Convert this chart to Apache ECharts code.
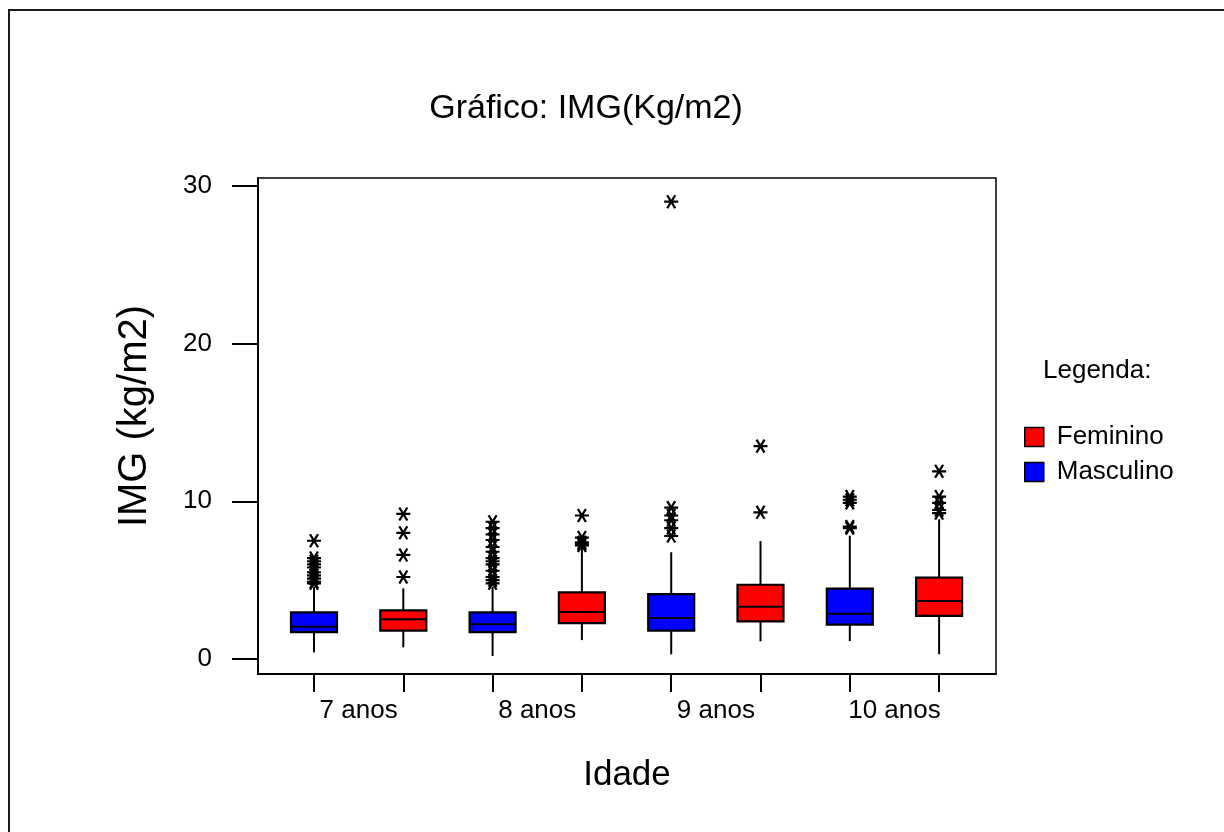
<!DOCTYPE html>
<html>
<head>
<meta charset="utf-8">
<script src="https://cdn.jsdelivr.net/npm/echarts@6/dist/echarts.min.js"></script>
<style>
  html, body { margin: 0; padding: 0; background: #fff; }
  #chart { width: 1224px; height: 832px; }
</style>
</head>
<body>
<div id="chart"></div>
<script>
// idades (uma por par de caixas)
var idades = ['7 anos', '8 anos', '9 anos', '10 anos'];

// caixas: [min, Q1, mediana, Q3, max]
var boxMasculino = [
  [0.42, 1.71, 2.05, 2.96, 4.59],
  [0.19, 1.71, 2.20, 2.96, 4.59],
  [0.30, 1.80, 2.60, 4.12, 6.77],
  [1.14, 2.18, 2.87, 4.46, 7.82]
];
var boxFeminino = [
  [0.74, 1.80, 2.52, 3.09, 4.48],
  [1.20, 2.28, 2.98, 4.23, 7.12],
  [1.12, 2.39, 3.32, 4.71, 7.48],
  [0.30, 2.73, 3.68, 5.16, 8.86]
];

// outliers (*) por idade
var outMasculino = [
  [7.5, 6.4, 6.2, 6.0, 5.8, 5.5, 5.3, 5.1, 4.9, 4.8],
  [8.7, 8.3, 7.9, 7.55, 7.1, 6.8, 6.4, 6.2, 6.0, 5.6, 5.2, 5.0, 4.8],
  [29.0, 9.6, 9.1, 8.8, 8.3, 7.8],
  [10.3, 10.1, 9.9, 8.4, 8.3]
];
var outFeminino = [
  [9.2, 8.0, 6.6, 5.2],
  [9.1, 7.7, 7.4, 7.3, 7.2],
  [13.5, 9.3],
  [11.9, 10.3, 9.9, 9.45, 9.25]
];

var yTicks = [0, 10, 20, 30];

// posição no eixo x: masculino à esquerda, feminino à direita
function posM(i) { return 2 * i + 1; }
function posF(i) { return 2 * i + 2; }

var dataM = boxMasculino.map(function (b, i) { return [posM(i)].concat(b); });
var dataF = boxFeminino.map(function (b, i) { return [posF(i)].concat(b); });
var outliers = [];
outMasculino.forEach(function (arr, i) { arr.forEach(function (v) { outliers.push([posM(i), v]); }); });
outFeminino.forEach(function (arr, i) { arr.forEach(function (v) { outliers.push([posF(i), v]); }); });

var labelPos = idades.map(function (n, i) { return 2 * i + 1.5; });
var tickPos = [];
idades.forEach(function (n, i) { tickPos.push(posM(i), posF(i)); });

function renderBox(params, api) {
  var x = api.value(0);
  var lo = api.coord([x, api.value(1)]);
  var q1 = api.coord([x, api.value(2)]);
  var md = api.coord([x, api.value(3)]);
  var q3 = api.coord([x, api.value(4)]);
  var hi = api.coord([x, api.value(5)]);
  var half = 23;
  var ln = { stroke: '#000', lineWidth: 2 };
  return {
    type: 'group',
    children: [
      { type: 'line', shape: { x1: lo[0], y1: lo[1], x2: q1[0], y2: q1[1] }, style: ln },
      { type: 'line', shape: { x1: q3[0], y1: q3[1], x2: hi[0], y2: hi[1] }, style: ln },
      { type: 'rect', shape: { x: q3[0] - half, y: q3[1], width: 2 * half, height: q1[1] - q3[1] },
        style: { fill: api.visual('color'), stroke: '#000', lineWidth: 2.2 } },
      { type: 'line', shape: { x1: md[0] - half, y1: md[1], x2: md[0] + half, y2: md[1] }, style: ln }
    ]
  };
}

var font = '"Liberation Sans", Arial, Helvetica, sans-serif';
var chart = echarts.init(document.getElementById('chart'));
chart.setOption({
  backgroundColor: '#fff',
  animation: false,
  textStyle: { fontFamily: font, color: '#000' },
  graphic: [{
    type: 'rect',
    shape: { x: 9, y: 10, width: 1400, height: 1000 },
    style: { fill: 'none', stroke: '#1a1a1a', lineWidth: 2 },
    silent: true
  }],
  title: [{
    text: 'Gráfico: IMG(Kg/m2)',
    left: 586, top: 92, textAlign: 'center', padding: 0,
    textStyle: { fontSize: 34, fontWeight: 'normal', color: '#000', fontFamily: font }
  }, {
    text: 'Legenda:',
    left: 1043, top: 358, padding: 0,
    textStyle: { fontSize: 26, fontWeight: 'normal', color: '#000', fontFamily: font }
  }],
  legend: {
    orient: 'vertical',
    left: 1024, top: 424, padding: 0,
    itemWidth: 19, itemHeight: 19, itemGap: 9,
    icon: 'rect',
    textStyle: { fontSize: 26, color: '#000', fontFamily: font, padding: [0, 0, 0, 8] },
    data: [
      { name: 'Feminino', itemStyle: { color: '#ff0000', borderColor: '#000', borderWidth: 1.5 } },
      { name: 'Masculino', itemStyle: { color: '#0000ff', borderColor: '#000', borderWidth: 1.5 } }
    ]
  },
  grid: {
    left: 258, right: 228, top: 178, bottom: 158,
    show: true, borderColor: '#000', borderWidth: 1.5, backgroundColor: 'transparent'
  },
  xAxis: {
    type: 'value', min: 0.373, max: 8.637,
    name: 'Idade', nameLocation: 'middle', nameGap: 84,
    nameTextStyle: { fontSize: 35, color: '#000', fontFamily: font },
    axisLine: { show: true, onZero: false, lineStyle: { color: '#000', width: 2 } },
    axisTick: { show: true, length: 18, lineStyle: { color: '#000', width: 2 }, customValues: tickPos },
    axisLabel: {
      fontSize: 26, color: '#000', margin: 24, fontFamily: font,
      customValues: labelPos,
      formatter: function (v) { return idades[Math.round((v - 1.5) / 2)]; }
    },
    splitLine: { show: false }
  },
  yAxis: {
    type: 'value', min: -0.95, max: 30.5,
    name: 'IMG (kg/m2)', nameLocation: 'middle', nameGap: 103,
    nameTextStyle: { fontSize: 40, color: '#000', fontFamily: font, padding: [0, 0, 0, 20] },
    axisLine: { show: true, lineStyle: { color: '#000', width: 2 } },
    axisTick: { show: true, length: 26, lineStyle: { color: '#000', width: 2 }, customValues: yTicks },
    axisLabel: { fontSize: 26, color: '#000', margin: 46, fontFamily: font, customValues: yTicks },
    splitLine: { show: false }
  },
  series: [{
    name: 'Masculino', type: 'custom', renderItem: renderBox,
    itemStyle: { color: '#0000ff' },
    encode: { x: 0, y: [1, 2, 3, 4, 5] },
    data: dataM
  }, {
    name: 'Feminino', type: 'custom', renderItem: renderBox,
    itemStyle: { color: '#ff0000' },
    encode: { x: 0, y: [1, 2, 3, 4, 5] },
    data: dataF
  }, {
    name: 'outliers', type: 'scatter',
    symbol: 'path://M-7,0L7,0M-4,-6L4,6M4,-6L-4,6',
    symbolSize: [14, 13],
    itemStyle: { color: '#000', borderColor: '#000', borderWidth: 2.2, opacity: 1 },
    data: outliers
  }]
});
</script>
</body>
</html>
